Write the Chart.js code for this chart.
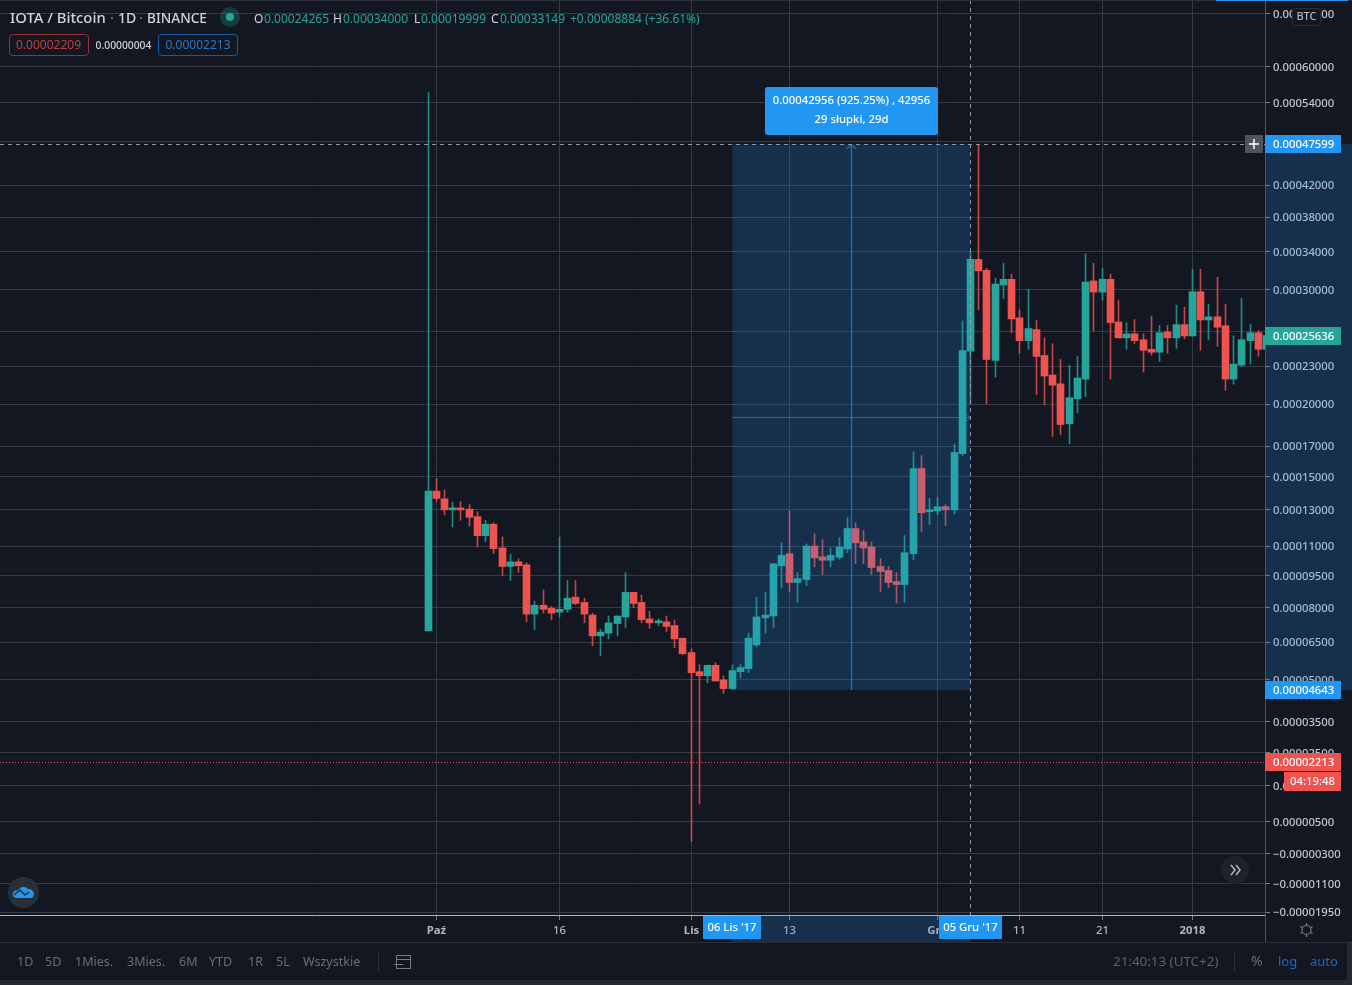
<!DOCTYPE html>
<html>
<head>
<meta charset="utf-8">
<style>
  html, body { margin: 0; padding: 0; background: #131722; }
  canvas { display: block; }
</style>
<script src="https://cdn.jsdelivr.net/npm/chart.js@4/dist/chart.umd.js"></script>
</head>
<body>
<canvas id="myChart" width="1352" height="985"></canvas>
<script>
// IOTA/BTC daily candles, all prices in satoshi. First candle is 30 Sep 2017.
const opens = [
  6972, 14109, 13648, 13000, 13042, 13042, 12612, 11556, 12184, 10900,
  9950, 10185, 10035, 7701, 8097, 7957, 7787, 7914, 8469, 8227,
  7658, 6757, 6873, 7285, 7572, 8692, 8227, 7487, 7315, 7358,
  7199, 6659, 6067, 5316, 5158, 5565, 5000, 4678, 5316, 5435,
  6383, 7530, 7615, 9985, 10600, 9162, 9307, 11000, 10435, 10265,
  10415, 10850, 11945, 11222, 10950, 9950, 9750, 9210, 9065, 10600,
  15516, 12890, 12945, 13182, 13000, 16484, 24265, 33149, 31995, 23478,
  30452, 31050, 27256, 25181, 26174, 23898, 22271, 21565, 18549, 20405,
  21946, 30871, 29744, 31050, 26873, 25432, 25791, 25265, 24426, 24175,
  25954, 25432, 26624, 25600, 29782, 27064, 27351, 26528, 21946, 23084,
  25181, 25887, 24426
];
const highs = [
  55600, 14879, 14170, 13442, 13485, 13303, 12890, 12407, 12262, 11484,
  10565, 10335, 10135, 8290, 8808, 8048, 11484, 9258, 9258, 8421,
  7744, 7045, 7615, 7615, 9650, 8692, 8566, 7830, 7487, 7615,
  7444, 6659, 6225, 5593, 5565, 5660, 5158, 5581, 5593, 6873,
  8469, 8711, 10085, 11167, 12946, 9650, 11111, 11667, 11334, 10900,
  11445, 12557, 12262, 11834, 11222, 10335, 9950, 9650, 11556, 16613,
  16355, 13667, 13727, 13303, 17143, 26969, 34000, 47599, 32205, 31155,
  32730, 31575, 27992, 30032, 27007, 25432, 24930, 23562, 23084, 23814,
  33749, 32730, 32205, 31575, 28950, 26815, 27102, 25791, 27418, 26557,
  26557, 28471, 28280, 32100, 32100, 28567, 31260, 28567, 25600, 29121,
  26653, 26079, 26079
];
const lows = [
  6972, 13503, 12724, 12040, 12407, 12073, 10950, 11239, 10615, 9500,
  9258, 9650, 7358, 7028, 7744, 7444, 7572, 7787, 8131, 7315,
  6343, 5948, 6629, 6757, 7113, 7987, 7315, 7071, 7186, 6942,
  6264, 5988, 0, 985, 4892, 4964, 4500, 4643, 5079, 5277,
  6304, 6873, 7113, 8920, 8726, 8227, 9016, 9935, 9550, 9935,
  10315, 10650, 10085, 10085, 9550, 8726, 8920, 8194, 8227, 10300,
  11762, 12168, 12724, 12112, 12779, 16355, 19999, 28021, 20000, 22109,
  29112, 25887, 24091, 24426, 20730, 19929, 17643, 17785, 17143, 19357,
  20568, 26079, 28950, 21946, 25432, 24426, 24930, 22514, 23923, 23394,
  24091, 24510, 25348, 25600, 24342, 25265, 24678, 21054, 21541, 23000,
  23168, 23839, 24000
];
const closes = [
  14109, 13667, 13000, 13042, 13000, 12573, 11556, 12184, 10865, 9950,
  10185, 9985, 7701, 8097, 7914, 7744, 7914, 8421, 8179, 7701,
  6757, 6916, 7315, 7615, 8692, 8179, 7457, 7315, 7371, 7156,
  6629, 6027, 5277, 5158, 5565, 4964, 4678, 5356, 5474, 6659,
  7572, 7658, 10085, 10515, 9162, 9355, 11000, 10385, 10265, 10515,
  10950, 11945, 11167, 10900, 9900, 9700, 9162, 9065, 10650, 15516,
  12834, 13000, 13182, 13000, 16567, 24317, 33149, 31922, 23562, 30556,
  31050, 27160, 25181, 26270, 23814, 22190, 21460, 18499, 20487, 22028,
  30766, 29744, 31050, 26815, 25432, 25791, 25181, 24342, 24175, 25887,
  25432, 26624, 25600, 29782, 27064, 27351, 26394, 21946, 23168, 25265,
  25887, 24426, 25636
];

// price axis
const yTickValues = [70000, 60000, 54000, 48000, 42000, 38000, 34000, 30000, 26000, 23000, 20000, 17000, 15000, 13000, 11000, 9500, 8000, 6500, 5000, 3500, 2500, 1500, 500, -300, -1000, -1630];
const yTickLabels = ["0.00070000", "0.00060000", "0.00054000", "0.00048000", "0.00042000", "0.00038000", "0.00034000", "0.00030000", "0.00026000", "0.00023000", "0.00020000", "0.00017000", "0.00015000", "0.00013000", "0.00011000", "0.00009500", "0.00008000", "0.00006500", "0.00005000", "0.00003500", "0.00002500", "0.00001500", "0.00000500", "\u22120.00000300", "\u22120.00001100", "\u22120.00001950"];

// time axis, candle index of each label
const xTickDays = [1, 16, 32, 44, 62, 72, 82, 93];
const xTickLabels = ["Paź", "16", "Lis", "13", "Gru", "11", "21", "2018"];
const xTickBold = ["Paź", "Lis", "Gru", "2018"];

// date range measure and the marked prices
const measureFromDay = 37;
const measureToDay = 66;
const measureFromPrice = 4643;
const measureToPrice = 47599;
const lastPrice = 25636;
const bidPrice = 2213;

const rangeButtons = ["1D", "5D", "1Mies.", "3Mies.", "6M", "YTD", "1R", "5L", "Wszystkie"];
const rangeButtonsX = [17, 45, 75, 127, 179, 209, 248, 276, 303];

const upColor = "#26a69a";
const downColor = "#ef5350";
const upWick = "rgba(38,166,154,0.8)";
const downWick = "rgba(239,83,80,0.8)";
const bgColor = "#131722";
const gridColor = "#363a45";
const fontName = "'Noto Sans', sans-serif";

// TradingView style log axis: log of (price + shift) so it can go under zero
class ShiftedLogScale extends Chart.LinearScale {
  _t(v) {
    return Math.log(v + 10000);
  }
  getPixelForValue(v) {
    const a = this._t(this.min);
    const b = this._t(this.max);
    return this.bottom - ((this._t(v) - a) / (b - a)) * (this.bottom - this.top);
  }
  getValueForPixel(p) {
    const a = this._t(this.min);
    const b = this._t(this.max);
    return Math.exp(a + ((this.bottom - p) / (this.bottom - this.top)) * (b - a)) - 10000;
  }
}
ShiftedLogScale.id = "shiftedLog";
ShiftedLogScale.defaults = Chart.LinearScale.defaults;

// day axis that puts every candle on a whole pixel so wicks stay sharp
class SnappedDayScale extends Chart.LinearScale {
  getPixelForValue(v) {
    return Math.floor(super.getPixelForValue(v)) + 0.5;
  }
}
SnappedDayScale.id = "snappedDay";
SnappedDayScale.defaults = Chart.LinearScale.defaults;
Chart.register(ShiftedLogScale, SnappedDayScale);

const days = opens.map((o, i) => i);
const candleColors = opens.map((o, i) => (closes[i] >= o ? upColor : downColor));
const wickColors = opens.map((o, i) => (closes[i] >= o ? upWick : downWick));

// Noto Sans sits a pixel high with a middle baseline, hence y + 1
function label(ctx, text, x, y, color, font, align) {
  ctx.fillStyle = color;
  ctx.font = font;
  ctx.textAlign = align || "left";
  ctx.textBaseline = "middle";
  ctx.fillText(text, x, y + 1);
}

function box(ctx, x, y, w, h, fill, r) {
  ctx.fillStyle = fill;
  ctx.beginPath();
  ctx.roundRect(x, y, w, h, r || 0);
  ctx.fill();
}

function outlineBox(ctx, x, y, w, h, stroke) {
  ctx.strokeStyle = stroke;
  ctx.lineWidth = 1;
  ctx.beginPath();
  ctx.roundRect(x + 0.5, y + 0.5, w, h, 3);
  ctx.stroke();
}

function line(ctx, x1, y1, x2, y2, color, width, dash) {
  ctx.strokeStyle = color;
  ctx.lineWidth = width || 1;
  ctx.setLineDash(dash || []);
  ctx.beginPath();
  ctx.moveTo(x1, y1);
  ctx.lineTo(x2, y2);
  ctx.stroke();
  ctx.setLineDash([]);
}

const background = {
  id: "background",
  beforeDraw(chart) {
    const ctx = chart.ctx;
    ctx.fillStyle = bgColor;
    ctx.fillRect(0, 0, chart.width, chart.height);
  }
};

const overlay = {
  id: "overlay",
  afterDatasetsDraw(chart) {
    const ctx = chart.ctx;
    const sx = chart.scales.x;
    const sy = chart.scales.y;
    const area = chart.chartArea;
    const x1 = sx.getPixelForValue(measureFromDay);
    const x2 = sx.getPixelForValue(measureToDay);
    const yTop = Math.round(sy.getPixelForValue(measureToPrice));
    const yBot = Math.round(sy.getPixelForValue(measureFromPrice));
    const yLast = Math.round(sy.getPixelForValue(lastPrice));
    const yBid = Math.round(sy.getPixelForValue(bidPrice));
    const shade = "rgba(33,150,243,0.2)";
    const arrow = "rgba(33,150,243,0.6)";

    // measure area, also marked on both axes
    ctx.fillStyle = shade;
    ctx.fillRect(x1, yTop, x2 - x1, yBot - yTop);
    ctx.fillRect(area.right, yTop, chart.width - area.right, yBot - yTop);
    ctx.fillRect(x1, area.bottom, x2 - x1, 27);

    const midX = (x1 + x2) / 2;
    const midY = Math.round((yTop + yBot) / 2) + 0.5;
    line(ctx, midX, yBot, midX, yTop + 1, arrow, 1.5);
    line(ctx, midX - 5, yTop + 5, midX, yTop + 1, arrow, 1.5);
    line(ctx, midX + 5, yTop + 5, midX, yTop + 1, arrow, 1.5);
    line(ctx, x1, midY, x2 - 1, midY, arrow, 1);
    line(ctx, x2 - 5, midY - 5, x2 - 1, midY, arrow, 1);
    line(ctx, x2 - 5, midY + 5, x2 - 1, midY, arrow, 1);

    // crosshair
    line(ctx, 0, yTop + 0.5, area.right, yTop + 0.5, "#9598a1", 1, [4, 4]);
    line(ctx, x2, 0, x2, area.bottom, "#9598a1", 1, [4, 4]);

    // bid price line
    line(ctx, 0, yBid + 0.5, area.right, yBid + 0.5, downColor, 1, [1, 2]);

    // axis borders reach the toolbar, strips at the very top
    line(ctx, area.right + 0.5, 0, area.right + 0.5, 942, "#50535e", 1);
    line(ctx, 0, 0.5, chart.width, 0.5, "#2a2e39", 1);
    line(ctx, 1216, 0.5, 1348, 0.5, "#2196f3", 1);

    // header
    label(ctx, "IOTA / Bitcoin", 10, 18, "#d1d4dc", "500 14.8px " + fontName);
    label(ctx, "·", 110, 18, "#787b86", "500 14px " + fontName);
    label(ctx, "1D", 118, 18, "#d1d4dc", "500 14px " + fontName);
    label(ctx, "·", 139, 18, "#787b86", "500 14px " + fontName);
    label(ctx, "BINANCE", 147, 18, "#d1d4dc", "500 13.6px " + fontName);
    box(ctx, 220, 7, 20, 20, "rgba(38,166,154,0.25)", 10);
    box(ctx, 226, 13, 8, 8, upColor, 4);

    const small = "12px " + fontName;
    label(ctx, "O", 254, 19, "#d1d4dc", small);
    label(ctx, "0.00024265", 264, 19, upColor, small);
    label(ctx, "H", 333, 19, "#d1d4dc", small);
    label(ctx, "0.00034000", 343, 19, upColor, small);
    label(ctx, "L", 414, 19, "#d1d4dc", small);
    label(ctx, "0.00019999", 421, 19, upColor, small);
    label(ctx, "C", 491, 19, "#d1d4dc", small);
    label(ctx, "0.00033149", 500, 19, upColor, small);
    label(ctx, "+0.00008884 (+36.61%)", 570, 19, upColor, small);

    outlineBox(ctx, 9, 34, 79, 21, "#9c2f2f");
    label(ctx, "0.00002209", 48.5, 45, "#c73c3c", small, "center");
    label(ctx, "0.00000004", 123.5, 45, "#d1d4dc", "500 10.3px " + fontName, "center");
    outlineBox(ctx, 158, 34, 79, 21, "#1c5a9e");
    label(ctx, "0.00002213", 198, 45, "#2a75c8", small, "center");

    // measure result
    box(ctx, 765, 87, 173, 48, "#2196f3", 3);
    const boxFont = "500 11.3px " + fontName;
    label(ctx, "0.00042956 (925.25%) , 42956", 851.5, 100, "#ffffff", boxFont, "center");
    label(ctx, "29 słupki, 29d", 851.5, 119, "#ffffff", boxFont, "center");

    // price axis labels
    const axisFont = "500 11.3px " + fontName;
    const lx = area.right + 8;
    box(ctx, area.right, yTop - 9, 76, 18, "#2196f3");
    label(ctx, "0.00047599", lx, yTop, "#ffffff", axisFont);
    box(ctx, 1245, yTop - 9, 18, 18, "#50535e");
    line(ctx, 1249, yTop, 1259, yTop, "#ffffff", 1.5);
    line(ctx, 1254, yTop - 5, 1254, yTop + 5, "#ffffff", 1.5);

    box(ctx, area.right, yLast - 9, 76, 18, upColor);
    label(ctx, "0.00025636", lx, yLast, "#ffffff", axisFont);

    box(ctx, area.right, yBot - 9, 76, 18, "#2196f3");
    label(ctx, "0.00004643", lx, yBot, "#ffffff", axisFont);

    box(ctx, area.right, yBid - 9, 76, 18, downColor);
    label(ctx, "0.00002213", lx, yBid, "#ffffff", axisFont);
    box(ctx, 1284, yBid + 10, 57, 19, downColor);
    label(ctx, "04:19:48", 1312.5, yBid + 19, "#ffffff", axisFont, "center");

    box(ctx, 1292, 8, 29, 18, bgColor, 3);
    outlineBox(ctx, 1292, 8, 28, 17, "#2a2e39");
    label(ctx, "BTC", 1306.5, 16, "#b2b5be", "500 11px " + fontName, "center");

    // time axis labels
    box(ctx, 703, area.bottom + 1, 58, 23, "#2196f3");
    label(ctx, "06 Lis '17", 732, area.bottom + 12, "#ffffff", axisFont, "center");
    box(ctx, 939, area.bottom + 1, 63, 23, "#2196f3");
    label(ctx, "05 Gru '17", 970.5, area.bottom + 12, "#ffffff", axisFont, "center");

    // gear
    ctx.strokeStyle = "#787b86";
    ctx.lineWidth = 1.2;
    ctx.beginPath();
    ctx.arc(1306.5, 930, 4.5, 0, Math.PI * 2);
    ctx.stroke();
    for (let k = 0; k < 6; k++) {
      const a = (k * Math.PI) / 3 + Math.PI / 6;
      line(ctx, 1306.5 + 4.5 * Math.cos(a), 930 + 4.5 * Math.sin(a), 1306.5 + 7 * Math.cos(a), 930 + 7 * Math.sin(a), "#787b86", 1.2);
    }

    // scroll to realtime button
    box(ctx, 1221, 856, 28, 28, "#1e222d", 14);
    ctx.lineWidth = 1.5;
    ctx.strokeStyle = "#b2b5be";
    ctx.beginPath();
    ctx.moveTo(1231, 865); ctx.lineTo(1235, 870); ctx.lineTo(1231, 875);
    ctx.moveTo(1236, 865); ctx.lineTo(1240, 870); ctx.lineTo(1236, 875);
    ctx.stroke();

    // logo
    box(ctx, 8, 877, 31, 31, "#2a2e39", 16);
    ctx.fillStyle = "#2196f3";
    ctx.beginPath();
    ctx.moveTo(16, 898);
    ctx.quadraticCurveTo(12, 897, 13, 893);
    ctx.quadraticCurveTo(14, 890, 18, 890);
    ctx.quadraticCurveTo(23, 884, 28, 889);
    ctx.quadraticCurveTo(33, 889, 34, 894);
    ctx.quadraticCurveTo(34, 898, 30, 898);
    ctx.closePath();
    ctx.fill();
    ctx.strokeStyle = "#2a2e39";
    ctx.lineWidth = 1.5;
    ctx.beginPath();
    ctx.moveTo(14, 895); ctx.lineTo(20, 890); ctx.lineTo(25, 895); ctx.lineTo(29, 892);
    ctx.stroke();

    // bottom toolbar
    ctx.fillStyle = bgColor;
    ctx.fillRect(0, 943, chart.width, 37);
    ctx.fillStyle = "#252934";
    ctx.fillRect(0, 980, chart.width, 5);
    ctx.fillRect(1347, 943, 5, 37);
    line(ctx, 0, 942.5, chart.width, 942.5, "#2a2e39", 1);
    rangeButtons.forEach((t, i) => {
      label(ctx, t, rangeButtonsX[i], 961, "#6a6d78", "12.5px " + fontName);
    });
    line(ctx, 378.5, 951, 378.5, 972, "#2a2e39", 1);
    ctx.strokeStyle = "#787b86";
    ctx.lineWidth = 1;
    ctx.strokeRect(396.5, 955.5, 14, 13);
    line(ctx, 396, 959.5, 411, 959.5, "#787b86", 1);
    line(ctx, 394, 964.5, 403, 964.5, "#787b86", 1);

    label(ctx, "21:40:13 (UTC+2)", 1113, 961, "#5d606b", "13.4px " + fontName);
    line(ctx, 1234.5, 951, 1234.5, 972, "#2a2e39", 1);
    label(ctx, "%", 1251, 961, "#6a6d78", "14px " + fontName);
    label(ctx, "log", 1278, 961, "#1e66c0", "13px " + fontName);
    label(ctx, "auto", 1310, 961, "#1e66c0", "13px " + fontName);
  }
};

const chart = new Chart(document.getElementById("myChart"), {
  type: "bar",
  data: {
    datasets: [
      {
        label: "wicks",
        data: days.map((d) => ({ x: d, y: [lows[d], highs[d]] })),
        backgroundColor: wickColors,
        barThickness: 1,
        grouped: false,
        order: 2
      },
      {
        label: "bodies",
        data: days.map((d) => ({ x: d, y: [opens[d], closes[d]] })),
        backgroundColor: candleColors,
        barThickness: 7,
        minBarLength: 2,
        grouped: false,
        order: 1
      }
    ]
  },
  options: {
    responsive: false,
    animation: false,
    devicePixelRatio: 1,
    layout: { padding: { bottom: 43 } },
    plugins: { legend: { display: false }, tooltip: { enabled: false } },
    scales: {
      x: {
        type: "snappedDay",
        min: -52.07,
        max: 101.82,
        offset: false,
        afterBuildTicks(axis) {
          axis.ticks = xTickDays.map((d) => ({ value: d }));
        },
        afterFit(axis) {
          axis.height = 27;
          axis.paddingLeft = 0;
          axis.paddingRight = 0;
        },
        grid: { color: gridColor, offset: false, tickLength: 5, tickColor: "#787b86" },
        border: { color: "#b2b5be" },
        ticks: {
          autoSkip: false,
          maxRotation: 0,
          padding: 4,
          color: "#b2b5be",
          font: (c) => ({
            family: fontName,
            size: 11.3,
            weight: xTickBold.includes(c.tick && c.tick.label) ? "700" : "500"
          }),
          callback: (v, i) => xTickLabels[i]
        }
      },
      y: {
        type: "shiftedLog",
        position: "right",
        min: -1689,
        max: 72800,
        afterBuildTicks(axis) {
          axis.ticks = yTickValues.map((v) => ({ value: v }));
        },
        afterFit(axis) {
          axis.width = 87;
          axis.paddingTop = 0;
          axis.paddingBottom = 0;
        },
        grid: { color: gridColor, tickLength: 5, tickColor: "#787b86" },
        border: { color: "#50535e" },
        ticks: {
          autoSkip: false,
          padding: 3,
          labelOffset: 1,
          color: "#c3c6ce",
          font: { family: fontName, size: 11.3, weight: "500" },
          callback: (v, i) => yTickLabels[i]
        }
      }
    }
  },
  plugins: [background, overlay]
});
</script>
</body>
</html>
